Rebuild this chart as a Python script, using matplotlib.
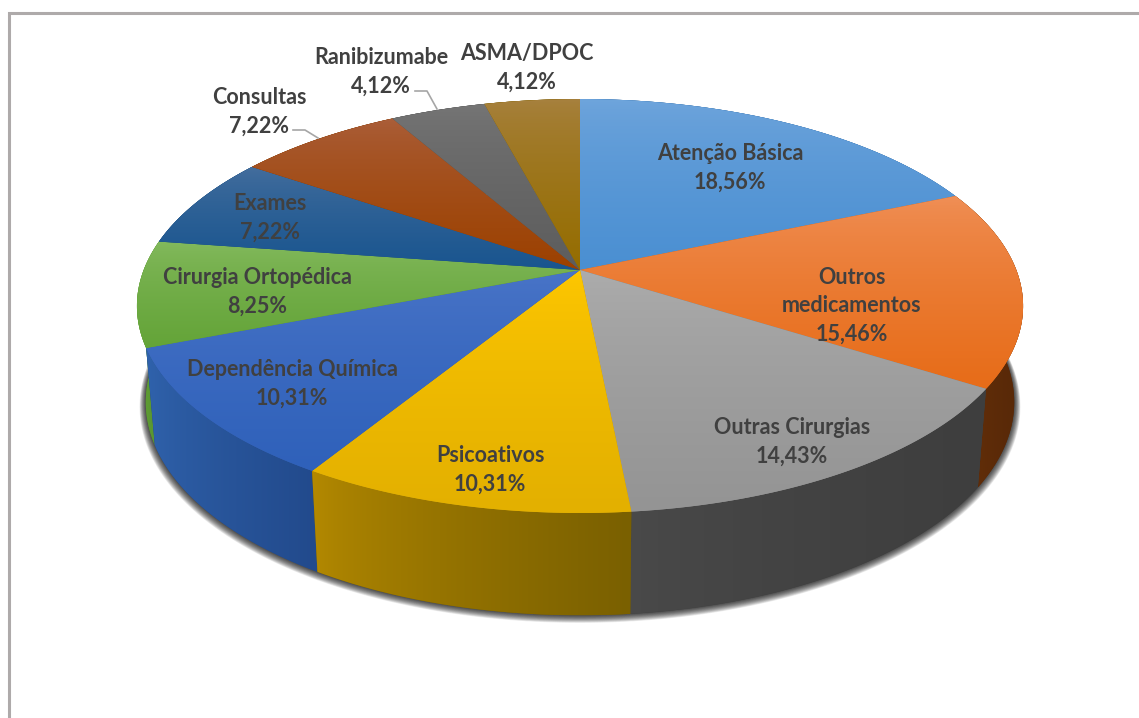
import numpy as np
import matplotlib
matplotlib.use('Agg')
import matplotlib.pyplot as plt
from matplotlib.colors import LinearSegmentedColormap
from matplotlib.patches import Polygon

plt.rcParams['font.family'] = ['Lato', 'DejaVu Sans']

# Dados do gráfico
nomes = ['Atenção Básica', 'Outros\nmedicamentos', 'Outras Cirurgias', 'Psicoativos',
         'Dependência Química', 'Cirurgia Ortopédica', 'Exames', 'Consultas',
         'Ranibizumabe', 'ASMA/DPOC']
valores = [18.56, 15.46, 14.43, 10.31, 10.31, 8.25, 7.22, 7.22, 4.12, 4.12]

# Cores: topo (claro, escuro) e lateral (esquerda, direita)
cor_topo = [('#6fa5dc', '#4a8fd2'), ('#f09058', '#e76c18'), ('#adadad', '#949494'),
            ('#ffc800', '#e3b000'), ('#4a75c8', '#2f61ba'), ('#84ba5e', '#64a438'),
            ('#466f9e', '#19558f'), ('#ab5f3b', '#9c4100'), ('#767676', '#5d5d5d'),
            ('#a7813f', '#956d00')]
cor_lado = [('#2b5f94', '#2b5f94'), ('#6a3208', '#572808'), ('#4a4a4a', '#3e3e3e'),
            ('#b58a00', '#7a6000'), ('#3063ad', '#224a8c'), ('#64a438', '#548f2c'),
            ('#134070', '#134070'), ('#6e2e00', '#6e2e00'), ('#444444', '#444444'),
            ('#6a4e00', '#6a4e00')]

# Posição dos rótulos em pixels
rotulos_xy = [(730, 168), (852, 306), (792, 442), (490, 470), (292, 384),
              (257, 292), (270, 218), (259, 112), (381, 72), (527, 68)]
guias = [([293, 305, 318], [130, 130, 138]), ([415, 427, 437], [91, 91, 109])]

# Geometria da perspectiva
cx, cy = 580, 270
a, b, k = 436.3, 200.7, -0.174
prof_x, prof_y, prof_d = 0.98, 1.03, 95


def topo(t):
    u, v = np.sin(t), -np.cos(t)
    return cx + a * u / (1 + k * v), cy + b * v / (1 + k * v)


def base(t, esc=1.0, dy=0):
    x, y = topo(t)
    return cx + (x - cx) * prof_x * esc, cy + prof_d + dy + (y - cy) * prof_y * esc


def gradiente(ax, pts, cores, vertical, z):
    xs, ys = pts[:, 0], pts[:, 1]
    cmap = LinearSegmentedColormap.from_list('g', cores)
    g = np.linspace(0, 1, 256) ** 0.7
    img = g[:, None] if vertical else g[None, :]
    # fundo liso para não deixar fresta entre as fatias
    ax.add_patch(Polygon(pts, closed=True, fc=cores[1], lw=0, zorder=z))
    im = ax.imshow(img, cmap=cmap, vmin=0, vmax=1, aspect='auto', origin='upper',
                   extent=(xs.min(), xs.max(), ys.max(), ys.min()), zorder=z)
    im.set_clip_path(Polygon(pts, closed=True, transform=ax.transData))


fig = plt.figure(figsize=(11.39, 7.18), dpi=100)
fig.set_facecolor('white')
ax = fig.add_axes([0, 0, 1, 1])
ax.set_xlim(0, 1139)
ax.set_ylim(718, 0)
ax.set_autoscale_on(False)
ax.axis('off')

# Moldura (só topo e esquerda aparecem)
ax.plot([9, 9, 1139], [718, 13, 13], color='#aeaaaa', lw=2.2, solid_joinstyle='miter', zorder=1)

# Sombra
tt = np.linspace(0, 2 * np.pi, 400)
for i in range(16):
    bx, by = base(tt, esc=1 + (16 - i) * 0.0009, dy=(16 - i) * 0.25)
    ax.fill(bx, by, color='black', alpha=0.065, lw=0, zorder=2)

lim = np.r_[0, np.cumsum(valores)] / sum(valores) * 2 * np.pi

# Laterais, do fundo para a frente
z = 10
meio = (lim[:-1] + lim[1:]) / 2
for i in np.argsort(-np.cos(meio)):
    t = np.linspace(lim[i], lim[i + 1], 120)
    x1, y1 = topo(t)
    x2, y2 = base(t)
    pts = np.c_[np.r_[x1, x2[::-1]], np.r_[y1, y2[::-1]]]
    gradiente(ax, pts, cor_lado[i], False, z)
    z += 1

# Topo das fatias
for i in range(len(valores)):
    t = np.linspace(lim[i], lim[i + 1], 120)
    x, y = topo(t)
    pts = np.c_[np.r_[cx, x], np.r_[cy, y]]
    gradiente(ax, pts, cor_topo[i], True, z)
    z += 1

# Rótulos
for nome, v, (x, y) in zip(nomes, valores, rotulos_xy):
    txt = nome + '\n' + f'{v:.2f}'.replace('.', ',') + '%'
    ax.text(x, y, txt, ha='center', va='center', fontsize=15.5, fontweight='bold',
            color='#404040', linespacing=1.42, zorder=100)

for gx, gy in guias:
    ax.plot(gx, gy, color='#a6a6a6', lw=1.2, zorder=100)

fig.savefig('out.png', dpi=100, facecolor='white')
